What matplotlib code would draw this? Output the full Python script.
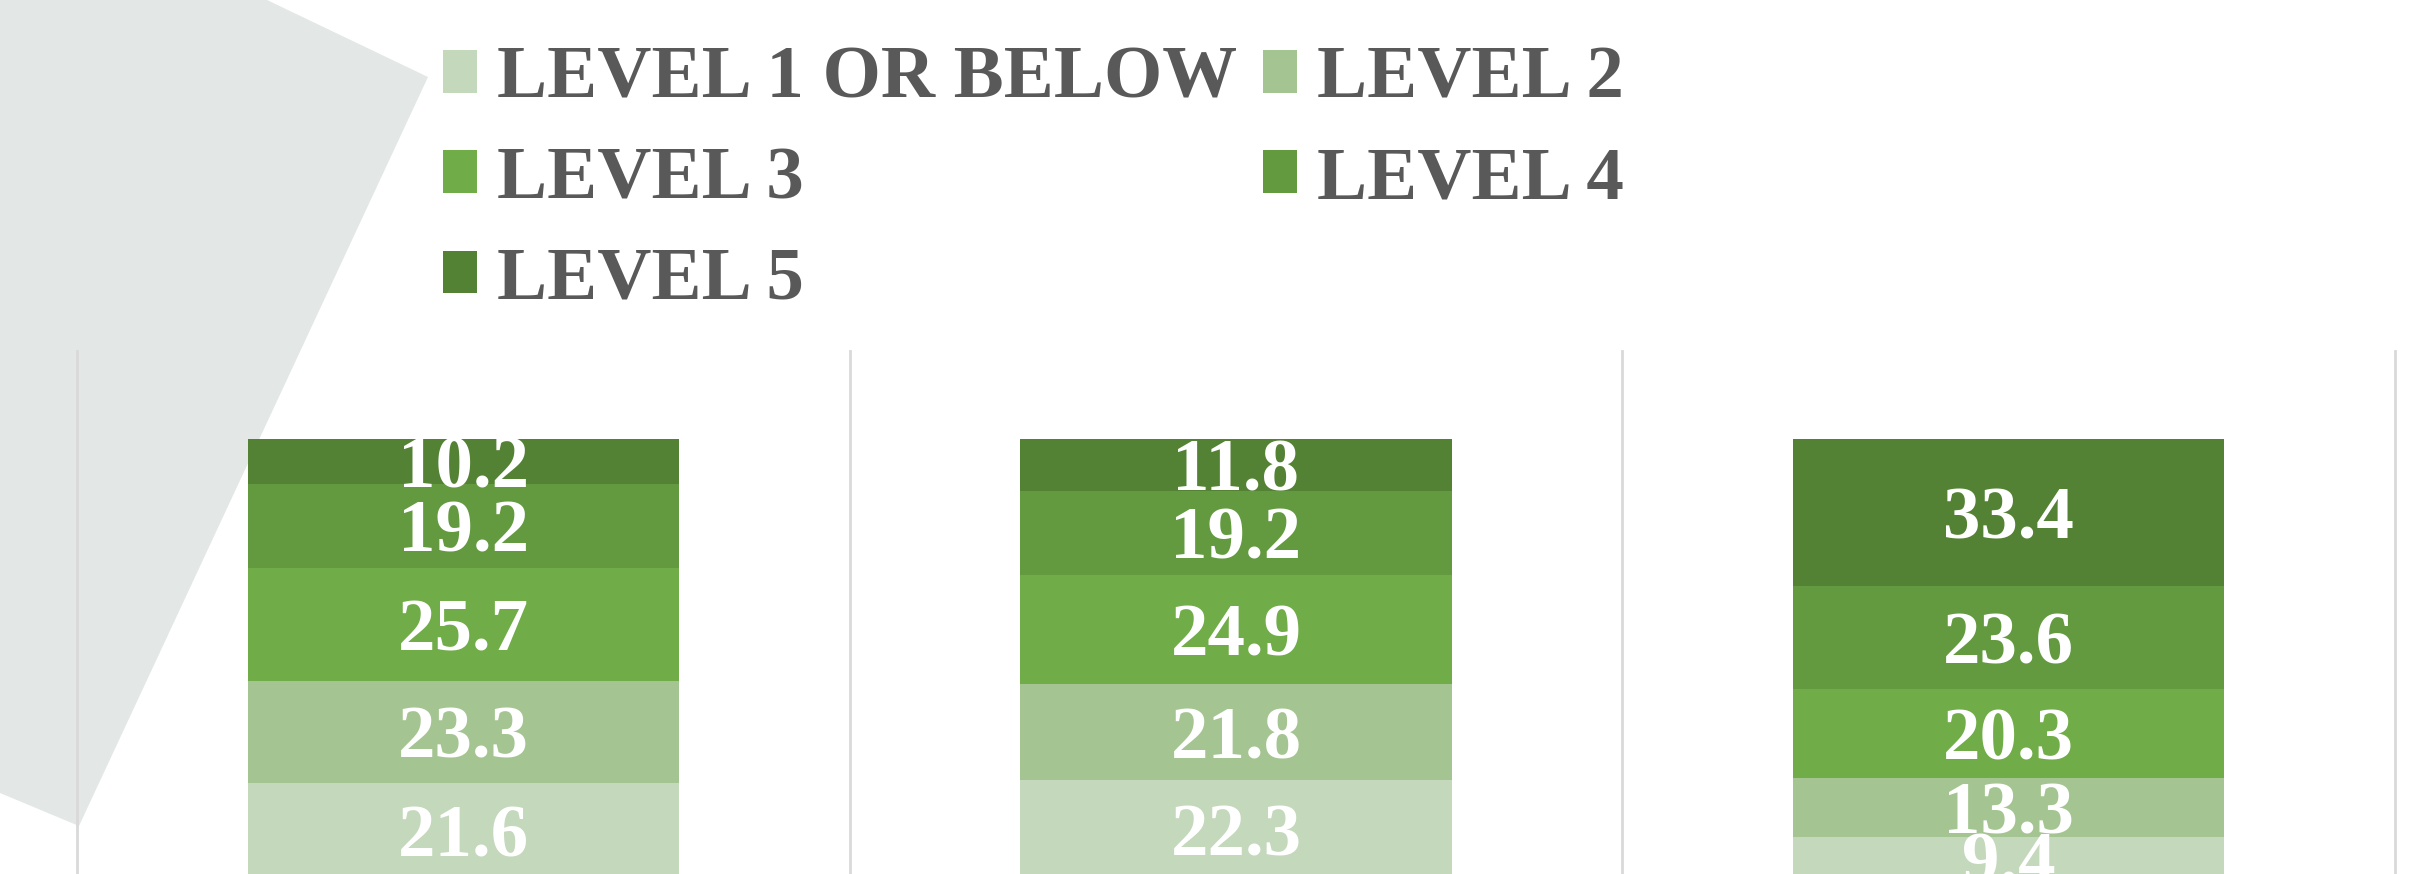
import numpy as np
import matplotlib
matplotlib.use("Agg")
import matplotlib.pyplot as plt
from matplotlib.patches import Polygon, Patch

# datos del gráfico (porcentajes apilados)
groups = ["A", "B", "C"]
levels = ["LEVEL 1 OR BELOW", "LEVEL 2", "LEVEL 3", "LEVEL 4", "LEVEL 5"]
level1 = [21.6, 22.3, 9.4]
level2 = [23.3, 21.8, 13.3]
level3 = [25.7, 24.9, 20.3]
level4 = [19.2, 19.2, 23.6]
level5 = [10.2, 11.8, 33.4]
colors = ["#C4D8BC", "#A4C592", "#70AC47", "#639A40", "#548235"]

W, H = 2412, 874
fig = plt.figure(figsize=(W / 100, H / 100), dpi=100)
font = "Liberation Serif"

# forma gris decorativa de fondo (detrás de los ejes)
shape = np.array([[0, 0], [267, 0], [428, 77], [79, 826], [0, 793]], dtype=float)
shape[:, 0] /= W
shape[:, 1] = 1 - shape[:, 1] / H
fig.patches.append(Polygon(shape, closed=True, transform=fig.transFigure,
                           facecolor="#E3E7E6", edgecolor="none", zorder=-1))

# ejes: el cero queda justo debajo del borde inferior
left, right = 77 / W, 2395 / W
top, bottom = 1 - 351 / H, 1 - 878 / H
ax = fig.add_axes([left, bottom, right - left, top - bottom])
ax.set_facecolor("none")

x = np.arange(len(groups))
series = [level1, level2, level3, level4, level5]
base = np.zeros(len(groups))
for vals, col, name in zip(series, colors, levels):
    vals = np.array(vals)
    ax.bar(x, vals, bottom=base, width=0.558, color=col, label=name, zorder=2)
    for xi, b, v in zip(x, base, vals):
        ax.text(xi, b + v / 2, f"{v:.1f}", ha="center", va="center_baseline",
                color="white", fontsize=54, fontweight="bold", family=font,
                zorder=3, clip_on=False)
    base += vals

ax.set_xlim(-0.5, 2.5)
ax.set_ylim(0, 120)
ax.set_xticks([-0.5, 0.5, 1.5, 2.5])
ax.set_xticklabels([])
ax.set_yticks([])
ax.tick_params(length=0)
ax.grid(axis="x", color="#D9D9D9", linewidth=2, zorder=1)
for gl in ax.xaxis.get_gridlines():
    gl.set_clip_on(False)
for s in ax.spines.values():
    s.set_visible(False)

# leyenda en dos columnas (orden por filas)
handles = [Patch(facecolor=c) for c in colors]
order = [0, 2, 4, 1, 3]
leg = fig.legend([handles[i] for i in order], [levels[i] for i in order],
                 ncol=2, loc="upper left", bbox_to_anchor=(443 / W, 1 - 46 / H),
                 frameon=False, borderpad=0, borderaxespad=0,
                 handlelength=0.45, handleheight=0.5, handletextpad=0.27,
                 columnspacing=0.35, labelspacing=0.43,
                 prop={"family": font, "weight": "bold", "size": 54})
for t in leg.get_texts():
    t.set_color("#595959")

fig.savefig("out.png", dpi=100)
